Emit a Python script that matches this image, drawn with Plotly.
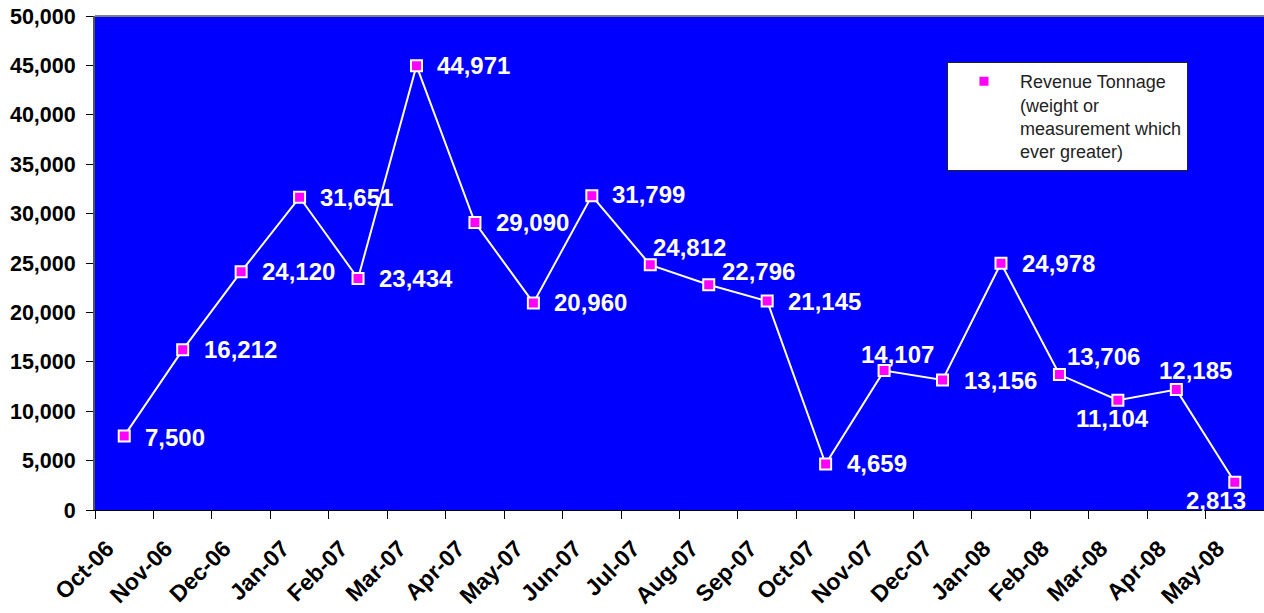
import plotly.graph_objects as go

months = ["Oct-06", "Nov-06", "Dec-06", "Jan-07", "Feb-07", "Mar-07", "Apr-07",
          "May-07", "Jun-07", "Jul-07", "Aug-07", "Sep-07", "Oct-07", "Nov-07",
          "Dec-07", "Jan-08", "Feb-08", "Mar-08", "Apr-08", "May-08"]
revenue_tonnage = [7500, 16212, 24120, 31651, 23434, 44971, 29090, 20960, 31799,
                   24812, 22796, 21145, 4659, 14107, 13156, 24978, 13706, 11104,
                   12185, 2813]
series_name = "Revenue Tonnage<br>(weight or<br>measurement which<br>ever greater)"

# label placement (xanchor, xshift px, yshift px) for each data label
label_place = [("left", 19, -2), ("left", 19, 0), ("left", 19, 0), ("left", 18, 0),
               ("left", 19, 0), ("left", 19, 0), ("left", 19, 0), ("left", 19, 0),
               ("left", 18, 1), ("left", 1, 17), ("left", 11, 13), ("left", 19, 0),
               ("left", 19, 0), ("center", 13, 16), ("left", 19, 0), ("left", 19, 0),
               ("left", 6, 18), ("center", -5, -18), ("center", 19, 19),
               ("center", -19, -18)]

FONT = "Liberation Sans, Arial, sans-serif"

fig = go.Figure()
fig.add_trace(go.Scatter(
    x=months, y=revenue_tonnage, mode="lines+markers", name=series_name,
    line=dict(color="white", width=2),
    marker=dict(symbol="square", size=11, color="#FF00FF",
                line=dict(color="white", width=2)),
    showlegend=True, hoverinfo="x+y",
))

annotations = []
for m, v, (xa, xs, ys) in zip(months, revenue_tonnage, label_place):
    annotations.append(dict(
        x=m, y=v, xref="x", yref="y", text=f"{v:,}", showarrow=False,
        xanchor=xa, yanchor="middle", xshift=xs, yshift=ys,
        font=dict(family=FONT, size=24, color="white", weight="bold"),
    ))

fig.update_layout(
    width=1264, height=613,
    margin=dict(l=95, r=0, t=16, b=103),
    paper_bgcolor="white", plot_bgcolor="#0000FF",
    font=dict(family=FONT, color="black"),
    annotations=annotations,
    showlegend=True,
    legend=dict(
        x=0.7288, y=0.907, xanchor="left", yanchor="top",
        bgcolor="white", bordercolor="#222222", borderwidth=1,
        font=dict(family=FONT, size=18, color="#222222"),
        valign="top", itemwidth=62,
    ),
    shapes=[dict(type="line", xref="paper", yref="paper", x0=0, x1=1, y0=1, y1=1,
                 line=dict(color="#808080", width=2))],
)

fig.update_xaxes(
    type="category", range=[-0.5, len(months) - 0.5],
    automargin=False,
    showgrid=False, zeroline=False,
    showline=True, linecolor="black", linewidth=1,
    ticks="outside", ticklen=8, tickcolor="black", tickwidth=1,
    tickson="boundaries",
    tickangle=-45, ticklabelshift=-17, ticklabelstandoff=15,
    tickfont=dict(family=FONT, size=23, color="black", weight="bold"),
)
fig.update_yaxes(
    range=[0, 50000], dtick=5000, tickformat=",",
    automargin=False,
    showgrid=False, zeroline=False,
    showline=True, linecolor="#555555", linewidth=2,
    ticks="outside", ticklen=7, tickcolor="black", tickwidth=1,
    ticklabelstandoff=6,
    tickfont=dict(family=FONT, size=21.5, color="black", weight="bold"),
)

fig.write_html(
    "out.html",
    config={"displayModeBar": False},
    post_script="document.body.style.margin='0';document.body.style.overflow='hidden';",
)
